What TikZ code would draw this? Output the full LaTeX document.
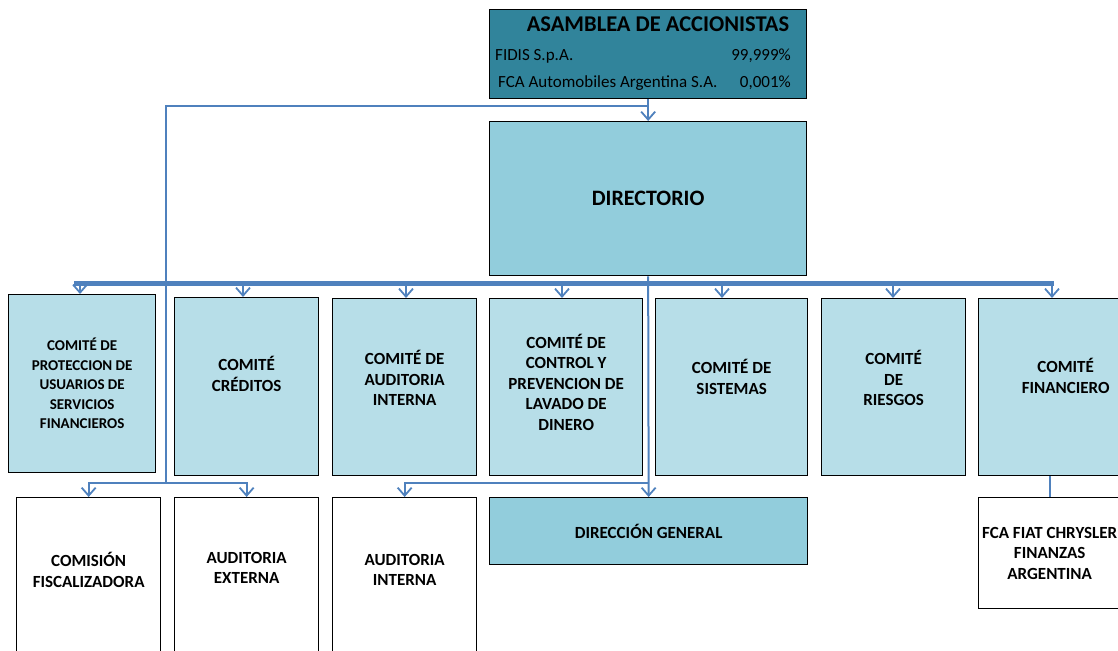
\documentclass[tikz,border=0pt]{standalone}
\usepackage{fontspec}
\setmainfont{Carlito}
\usetikzlibrary{arrows.meta}
\usetikzlibrary{positioning}
\definecolor{asamcol}{HTML}{31849B}
\definecolor{dircol}{HTML}{92CDDC}
\definecolor{comcol}{HTML}{B7DEE8}
\definecolor{linkcol}{HTML}{4F81BD}
\tikzset{box/.style = {draw, line width = 1.3pt, inner sep = 0, anchor = north west,
                       font = \bfseries\fontsize{17}{20.5}\selectfont, align = center}}
\tikzset{txt/.style = {font = \bfseries\fontsize{17}{20.5}\selectfont, align = center}}
\tikzset{link/.style = {draw = linkcol, line width = 2pt}}
\tikzset{conn/.style = {link, -{Straight Barb[length = 8pt, width = 14pt, line width = 1.8pt]}}}

\begin{document}
\begin{tikzpicture}[x = 1pt, y = -1pt]
      \path [use as bounding box, clip] (0, 0) rectangle (1118, 650);

      % top of the chart
      \node [box, fill = asamcol, minimum width = 317pt, minimum height = 89pt] (asam) at (489, 9) {};
      \node [font = \bfseries\fontsize{22.5}{26}\selectfont] (asamtitle) at (658, 24) {ASAMBLEA DE ACCIONISTAS};
      \node [anchor = west, font = \fontsize{17}{20}\selectfont, inner sep = 0] (fidis) at (495, 56) {FIDIS S.p.A.};
      \node [anchor = east, font = \fontsize{17}{20}\selectfont, inner sep = 0] (fidisp) at (791, 56) {99,999\%};
      \node [anchor = west, font = \fontsize{17}{20}\selectfont, inner sep = 0] (fcaa) at (498, 83) {FCA Automobiles Argentina S.A.};
      \node [anchor = east, font = \fontsize{17}{20}\selectfont, inner sep = 0] (fcaap) at (791, 83) {0,001\%};
      \node [box, fill = dircol, minimum width = 317pt, minimum height = 154pt,
             font = \bfseries\fontsize{22}{25}\selectfont] (dir) at (489, 121) {DIRECTORIO};

      % committees
      \node [box, fill = comcol, minimum width = 147pt, minimum height = 178pt,
             font = \bfseries\fontsize{15}{19.5}\selectfont] (c1) at (8, 294)
            {COMITÉ DE\\PROTECCION DE\\USUARIOS DE\\SERVICIOS\\FINANCIEROS};
      \node [box, fill = comcol, minimum width = 144pt, minimum height = 178pt] (c2) at (174, 297) {COMITÉ\\CRÉDITOS\\[5pt]};
      \node [box, fill = comcol, minimum width = 144pt, minimum height = 177pt] (c3) at (332, 298) {COMITÉ DE\\AUDITORIA\\INTERNA\\[-2pt]};
      \node [box, fill = comcol, minimum width = 153pt, minimum height = 177pt] (c4) at (489, 298)
            {COMITÉ DE\\CONTROL Y\\PREVENCION DE\\LAVADO DE\\DINERO\\[-10pt]};
      \node [box, fill = comcol, minimum width = 152pt, minimum height = 177pt] (c5) at (655, 298) {COMITÉ DE\\SISTEMAS\\[0pt]};
      \node [box, fill = comcol, minimum width = 144pt, minimum height = 177pt] (c6) at (821, 298) {COMITÉ\\DE\\RIESGOS\\[-2pt]};
      \node [box, fill = comcol, minimum width = 174pt, minimum height = 177pt] (c7) at (978, 298) {COMITÉ\\FINANCIERO\\[2pt]};

      % lower row
      \node [box, fill = white, minimum width = 144pt, minimum height = 173pt] (comfisc) at (16, 497) {};
      \node [box, fill = white, minimum width = 144pt, minimum height = 173pt] (audext) at (174, 497) {};
      \node [box, fill = white, minimum width = 144pt, minimum height = 173pt] (audint) at (332, 497) {};
      \node [txt] (comfisctext) at ([yshift = -73pt] comfisc.north) {COMISIÓN\\FISCALIZADORA};
      \node [txt] (audexttext) at ([yshift = -71pt] audext.north) {AUDITORIA\\EXTERNA};
      \node [txt] (audinttext) at ([yshift = -73pt] audint.north) {AUDITORIA\\INTERNA};
      \node [box, fill = dircol, minimum width = 318pt, minimum height = 67pt] (dirgen) at (489, 497) {DIRECCIÓN GENERAL};
      \node [box, fill = white, minimum width = 142pt, minimum height = 111pt] (fca) at (978, 497)
            {FCA FIAT CHRYSLER\\FINANZAS\\ARGENTINA};

      % connectors
      \coordinate (fork) at (648, 106);
      \coordinate (lowfork) at (166, 483);
      \coordinate (midfork) at (dir.south |- lowfork);
      \draw [conn] (asam.south) -- (dir.north);
      \draw [link] (fork) -| (lowfork);
      \draw [conn] (lowfork) -| (comfisc.north);
      \draw [conn] (lowfork) -| (audext.north);
      \draw [link, line width = 5pt] (74, 283) -- (1054, 283);
      \foreach \x/\n in {80/c1, 243/c2, 406/c3, 562/c4, 722/c5, 893/c6, 1052/c7}
        \draw [conn] (\x, 283) -- (\x,0 |- \n.north);
      \draw [conn] (dir.south) -- (dirgen.north);
      \draw [conn] (midfork) -| (audint.north);
      \draw [link] (fca.north |- c7.south) -- (fca.north);
    \end{tikzpicture}
\end{document}
